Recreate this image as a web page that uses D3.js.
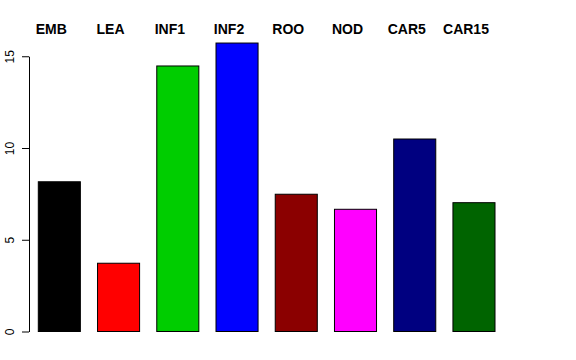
<!DOCTYPE html>
<html>
<head>
<meta charset="utf-8">
<script src="https://cdn.jsdelivr.net/npm/d3@7"></script>
<style>
  html, body { margin: 0; padding: 0; background: #ffffff; }
  svg { display: block; }
</style>
</head>
<body>
<svg id="chart" width="576" height="360"></svg>
<script>
const categories = ["EMB", "LEA", "INF1", "INF2", "ROO", "NOD", "CAR5", "CAR15"];
const values = [8.16, 3.72, 14.47, 15.72, 7.48, 6.66, 10.49, 7.02];
const barColors = ["#000000", "#ff0000", "#00cd00", "#0000ff", "#8b0000", "#ff00ff", "#000080", "#006400"];
const yTicks = [0, 5, 10, 15];

const svg = d3.select("#chart");
const W = 576, H = 360;
svg.append("rect").attr("width", W).attr("height", H).attr("fill", "#fff");

const x = d3.scaleBand()
  .domain(categories)
  .range([38.3, 495])
  .paddingInner(0.29)
  .paddingOuter(0);

const y = d3.scaleLinear().domain([0, 15]).range([331.5, 56.25]);

// bars
svg.append("g").selectAll("rect")
  .data(categories)
  .join("rect")
  .attr("x", d => x(d))
  .attr("width", x.bandwidth())
  .attr("y", (d, i) => y(values[i]))
  .attr("height", (d, i) => y(0) - y(values[i]))
  .attr("fill", (d, i) => barColors[i])
  .attr("stroke", "#000")
  .attr("stroke-width", 1);

// y axis
const yAxis = d3.axisLeft(y).tickValues(yTicks).tickSize(7).tickSizeOuter(0).tickFormat(d3.format("d"));
const gy = svg.append("g").attr("transform", "translate(29,0)").call(yAxis);
gy.select(".domain").attr("stroke", "#000");
gy.selectAll(".tick line").attr("stroke", "#000");
gy.selectAll(".tick text")
  .attr("font-family", "Liberation Sans, Arial, sans-serif")
  .attr("font-size", 12)
  .attr("fill", "#000")
  .attr("x", null).attr("dy", null)
  .attr("text-anchor", "middle")
  .attr("transform", "translate(-15,0) rotate(-90)");

// category labels at top
svg.append("g").selectAll("text")
  .data(categories)
  .join("text")
  .attr("x", d => x(d) + x.bandwidth() / 2 - 8)
  .attr("y", 34)
  .attr("text-anchor", "middle")
  .attr("font-family", "Liberation Sans, Arial, sans-serif")
  .attr("font-weight", "bold")
  .attr("font-size", 14)
  .attr("fill", "#000")
  .text(d => d);
</script>
</body>
</html>
